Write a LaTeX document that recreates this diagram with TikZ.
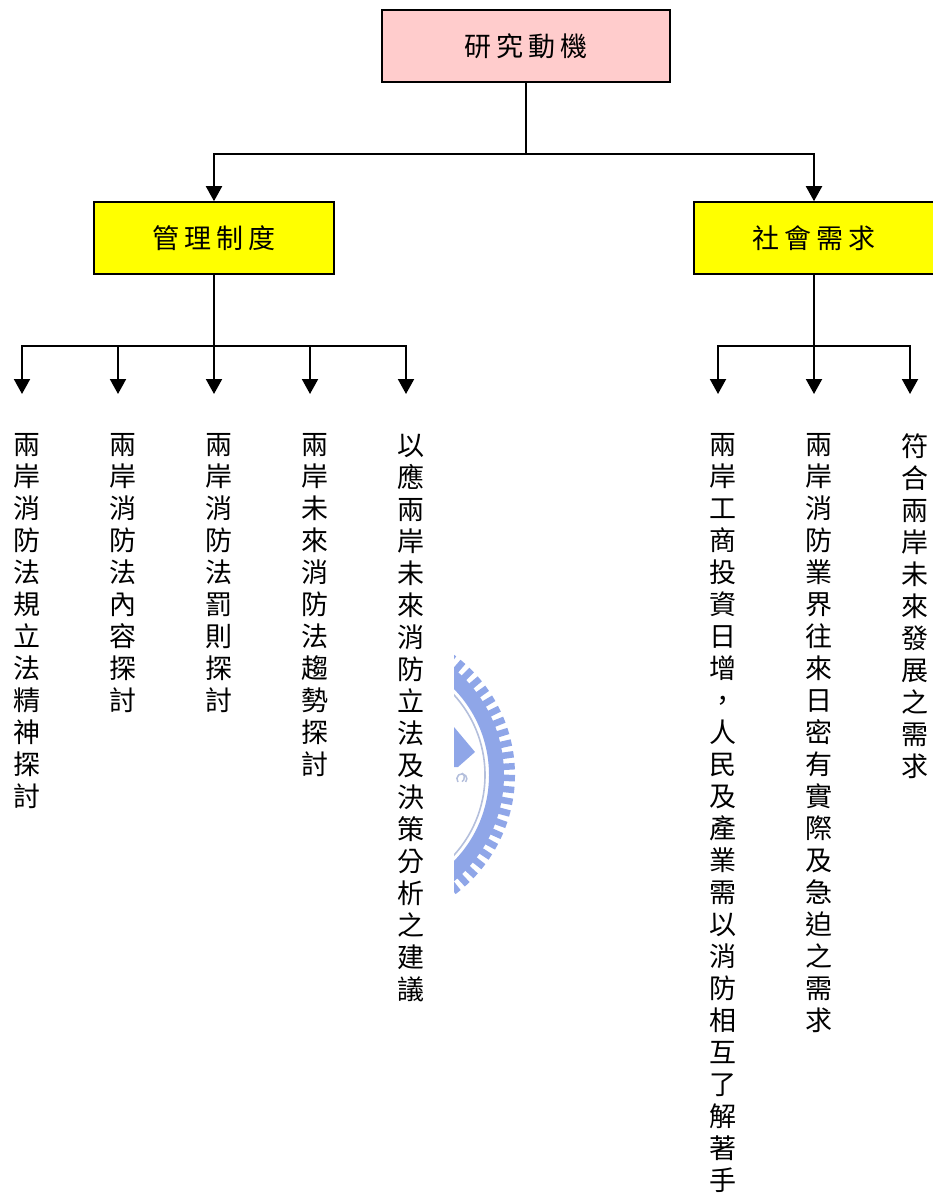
\documentclass[tikz,border=0pt]{standalone}
\usepackage{fontspec}
\usetikzlibrary{arrows.meta}
\newfontfamily\cjk{Noto Sans CJK TC}
\newfontfamily\cjkbox[LetterSpace=18]{Noto Sans CJK TC}
\definecolor{seal}{HTML}{8FA6E8}
\definecolor{sealpale}{HTML}{B4BFDC}
\definecolor{rootpink}{HTML}{FFCCCC}
\definecolor{catyellow}{HTML}{FFFF00}
\tikzset{
  x=1pt,y=-1pt,
  box/.style={draw=black,line width=1.6pt,minimum width=240pt,minimum height=72pt,inner sep=0pt,
    font=\cjkbox\fontsize{27}{32}\selectfont},
  rootbox/.style={box,fill=rootpink,minimum width=288pt},
  catbox/.style={box,fill=catyellow},
  link/.style={draw=black,line width=2pt},
  arr/.style={link,-{Triangle[length=15pt,width=16pt]}},
  vtext/.style={anchor=north,align=center,inner sep=0pt,font=\cjk\fontsize{27}{32}\selectfont},
}
\begin{document}
\begin{tikzpicture}
\useasboundingbox (0,0) rectangle (933,1196);
\clip (0,0) rectangle (933,1196);
% watermark seal
\begin{scope}
\clip (454,640) rectangle (530,910);
\draw[seal,line width=15pt] (366,775) circle[radius=130.5];
\draw[sealpale,line width=1.6pt] (366,775) circle[radius=119];
\foreach \a in {-54,-49.4,...,54}{
  \draw[seal,line width=6.5pt] (366,775) ++(\a:135) -- ++(\a:14);
}
\fill[seal] (454,727) -- (475,752) -- (458,767) -- (454,767) -- cycle;
\draw[sealpale,line width=1.5pt] (462,773) arc[start angle=-60,end angle=60,radius=5];
\draw[sealpale,line width=1.5pt] (458,782) arc[start angle=140,end angle=400,radius=5];
\end{scope}
% boxes
\node[rootbox] (root) at (526,46) {研究動機};
\node[catbox] (mgmt) at (214,238) {管理制度};
\node[catbox] (soc) at (814,238) {社會需求};
% junctions and arrow ends
\coordinate (j0) at (526,154);
\coordinate (jm) at (214,346);
\coordinate (js) at (814,346);
\foreach \n/\x in {a1/22,a2/118,a3/214,a4/310,a5/406,a6/718,a7/814,a8/910}{
  \coordinate (\n) at (\x,394);
}
% connectors
\draw[link] (root.south) -- (j0);
\draw[arr] (j0) -| (mgmt.north);
\draw[arr] (j0) -| (soc.north);
\draw[link] (mgmt.south) -- (jm);
\draw[link] (soc.south) -- (js);
\foreach \n in {a1,a2,a3,a4,a5}{\draw[arr] (jm) -| (\n);}
\foreach \n in {a6,a7,a8}{\draw[arr] (js) -| (\n);}
% vertical text
\node[vtext] (t1) at (27,433.5) {兩\\岸\\消\\防\\法\\規\\立\\法\\精\\神\\探\\討};
\node[vtext] (t2) at (123,433.5) {兩\\岸\\消\\防\\法\\內\\容\\探\\討};
\node[vtext] (t3) at (219,433.5) {兩\\岸\\消\\防\\法\\罰\\則\\探\\討};
\node[vtext] (t4) at (315,433.5) {兩\\岸\\未\\來\\消\\防\\法\\趨\\勢\\探\\討};
\node[vtext] (t5) at (411,433.5) {以\\應\\兩\\岸\\未\\來\\消\\防\\立\\法\\及\\決\\策\\分\\析\\之\\建\\議};
\node[vtext] (t6) at (723,433.5) {兩\\岸\\工\\商\\投\\資\\日\\增\\，\\人\\民\\及\\產\\業\\需\\以\\消\\防\\相\\互\\了\\解\\著\\手};
\node[vtext] (t7) at (819,433.5) {兩\\岸\\消\\防\\業\\界\\往\\來\\日\\密\\有\\實\\際\\及\\急\\迫\\之\\需\\求};
\node[vtext] (t8) at (915,433.5) {符\\合\\兩\\岸\\未\\來\\發\\展\\之\\需\\求};
\end{tikzpicture}
\end{document}
